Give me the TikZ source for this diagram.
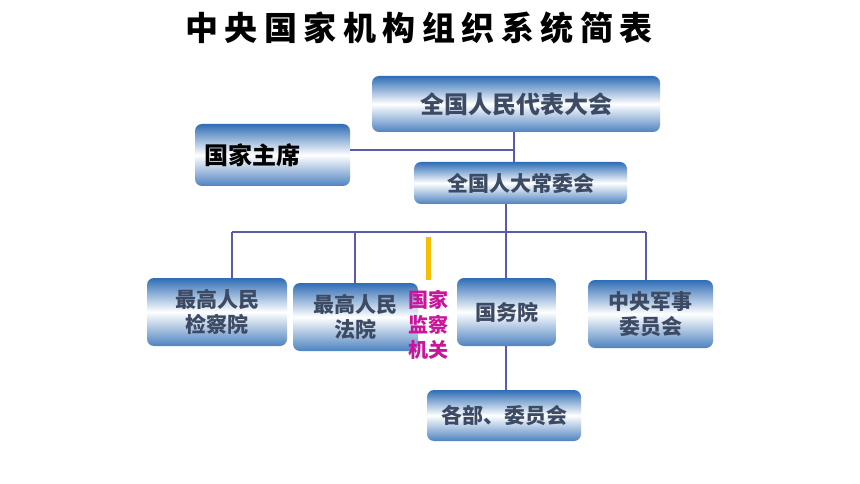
\documentclass[tikz,border=0pt]{standalone}
\usepackage{fontspec}
\setmainfont{Noto Sans CJK SC}
\usetikzlibrary{positioning}
\definecolor{boxblue}{HTML}{2F6DB5}
\definecolor{boxtext}{HTML}{3C4A63}
\definecolor{linkblue}{HTML}{5A5AAE}
\definecolor{jianmag}{HTML}{C8169A}
\newcommand{\tgap}{\hspace{6.5pt}}
\tikzset{
  orgbox/.style={rounded corners=7pt, top color=boxblue, bottom color=boxblue!85, middle color=white,
    text=boxtext, font=\bfseries\fontsize{21}{25}\selectfont, align=center, inner sep=0pt},
  link/.style={draw=linkblue, line width=1.3pt}
}
\begin{document}
\begin{tikzpicture}[x=1pt,y=-1pt]
        \useasboundingbox[fill=white] (0,0) rectangle (860,484);
        % Title
        \node[font=\bfseries\fontsize{33}{36}\selectfont] (title) at (419,28) {中\tgap 央\tgap 国\tgap 家\tgap 机\tgap 构\tgap 组\tgap 织\tgap 系\tgap 统\tgap 简\tgap 表};

        % Boxes
        \node[orgbox, minimum width=288pt, minimum height=56pt, font=\bfseries\fontsize{24}{28}\selectfont] (npc) at (516,104) {全国人民代表大会};
        \node[orgbox, minimum width=155pt, minimum height=62pt, text=black, text width=137pt, align=left, font=\bfseries\fontsize{24}{28}\selectfont] (pres) at (272.5,155) {国家主席};
        \node[orgbox, minimum width=213pt, minimum height=42pt] (nscm) at (520.5,183) {全国人大常委会};
        \node[orgbox, minimum width=140pt, minimum height=68pt] (proc) at (217,312) {最高人民\\检察院};
        \node[orgbox, minimum width=125pt, minimum height=68pt] (court) at (355.5,317) {最高人民\\法院};
        \node[orgbox, minimum width=99pt, minimum height=68pt] (state) at (506.5,312) {国务院};
        \node[orgbox, minimum width=125pt, minimum height=68pt] (cmc) at (650.5,314) {中央军事\\委员会};
        \node[orgbox, minimum width=154pt, minimum height=51pt] (mins) at (504,415.5) {各部、委员会};
        \node[text=jianmag, font=\bfseries\fontsize{20}{25}\selectfont, align=center, inner sep=0pt] (sup) at (428,325) {国家\\监察\\机关};

        % Connectors
        \coordinate (pj) at (514,150);
        \draw[link] (pres.east |- pj) -- (pj);
        \draw[link] (npc.south -| pj) -- (nscm.north -| pj);
        \coordinate (bus) at (506,232);
        \draw[link] (nscm.south -| bus) -- (bus);
        \draw[link] (232,232) -- (646,232);
        \draw[link] (proc.north -| 232,0) -- (232,232);
        \draw[link] (court.north -| 355,0) -- (355,232);
        \draw[link] (state.north -| bus) -- (bus);
        \draw[link] (cmc.north -| 646,0) -- (646,232);
        \draw[link] (state.south -| bus) -- (mins.north -| bus);
        \coordinate (ybar) at (428,237);
        \draw[draw={rgb,255:red,245;green,190;blue,0}, line width=5pt] (ybar) -- (428,280);
\end{tikzpicture}
\end{document}
